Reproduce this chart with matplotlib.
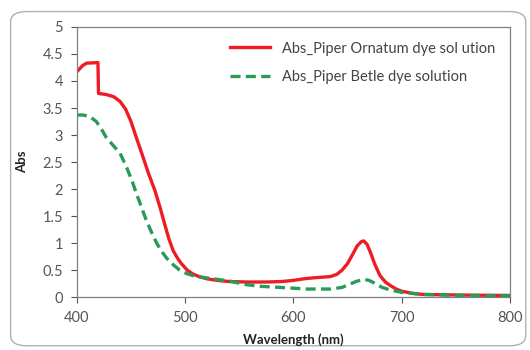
import numpy as np
from matplotlib import pyplot as plt
from matplotlib.patches import FancyBboxPatch

plt.rcParams['font.family'] = ['Lato', 'DejaVu Sans']

# Abs_Piper Ornatum (red)
wl_red = [400, 405, 409, 419.5, 420, 427, 434, 440, 445, 450, 455, 461, 466, 472, 477, 481,
          485, 489, 493, 497, 502, 507, 513, 520, 530, 540, 557, 575, 590, 600, 610,
          620, 634, 640, 645, 650, 655, 659, 663, 665, 668, 671, 675, 680, 685, 690,
          695, 700, 710, 720, 750, 800]
abs_red = [4.17, 4.28, 4.33, 4.34, 3.77, 3.75, 3.71, 3.62, 3.48, 3.25, 2.95, 2.6, 2.3, 1.98,
           1.65, 1.36, 1.08, 0.86, 0.72, 0.61, 0.5, 0.43, 0.38, 0.34, 0.31, 0.29, 0.28,
           0.28, 0.29, 0.31, 0.34, 0.36, 0.38, 0.42, 0.5, 0.62, 0.8, 0.95, 1.03, 1.04,
           0.98, 0.84, 0.62, 0.4, 0.28, 0.21, 0.15, 0.11, 0.07, 0.05, 0.04, 0.03]

# Abs_Piper Betle (green)
wl_green = [400, 406, 412, 418, 423, 427, 433, 440, 446, 451, 455, 460, 464, 469, 474, 479,
            483, 489, 495, 501, 507, 515, 526, 540, 557, 570, 588, 613, 634, 645, 652,
            658, 665, 670, 676, 682, 690, 700, 720, 760, 800]
abs_green = [3.37, 3.37, 3.34, 3.25, 3.1, 2.96, 2.82, 2.66, 2.4, 2.15, 1.92, 1.65, 1.43, 1.2,
             0.99, 0.83, 0.72, 0.6, 0.5, 0.44, 0.4, 0.37, 0.34, 0.3, 0.23, 0.2, 0.18, 0.15,
             0.15, 0.18, 0.24, 0.29, 0.33, 0.31, 0.25, 0.18, 0.13, 0.09, 0.05, 0.03, 0.03]

xticks = [400, 500, 600, 700, 800]
yticks = [0, 0.5, 1, 1.5, 2, 2.5, 3, 3.5, 4, 4.5, 5]
ytick_labels = ['0', '0.5', '1', '1.5', '2', '2.5', '3', '3.5', '4', '4.5', '5']

fig = plt.figure(figsize=(5.3, 3.5), dpi=100)
border = FancyBboxPatch((0.02, 0.012), 0.972, 0.955, boxstyle='round,pad=0,rounding_size=0.03',
                        transform=fig.transFigure, facecolor='none', edgecolor='#b0b0b0',
                        lw=1.0, zorder=-10)
fig.patches.append(border)

ax = fig.add_axes([0.145, 0.151, 0.817, 0.772])
ax.plot(wl_red, abs_red, color='#ee1c25', lw=2.4, label='Abs_Piper Ornatum dye sol ution')
ax.plot(wl_green, abs_green, color='#2a9a57', lw=2.4, ls=(0, (3, 1.6)), label='Abs_Piper Betle dye solution')

ax.set_xlim(400, 800)
ax.set_ylim(0, 5)
ax.set_xticks(xticks)
ax.set_yticks(yticks)
ax.set_yticklabels(ytick_labels)
ax.tick_params(colors='#555555', labelsize=10.5, length=4, direction='out', width=0.8, pad=6)
for s in ax.spines.values():
    s.set_color('#808080')
    s.set_linewidth(0.9)

ax.set_xlabel('Wavelength (nm)', fontsize=9.5, fontweight='bold', color='#222222', labelpad=6)
ax.set_ylabel('Abs', fontsize=9.5, fontweight='bold', color='#222222', labelpad=10)

ax.legend(loc='upper right', frameon=False, fontsize=10.5, handlelength=2.8,
          labelcolor='#444444', borderaxespad=0.6, labelspacing=1.0)

fig.savefig('out.png', dpi=100)
